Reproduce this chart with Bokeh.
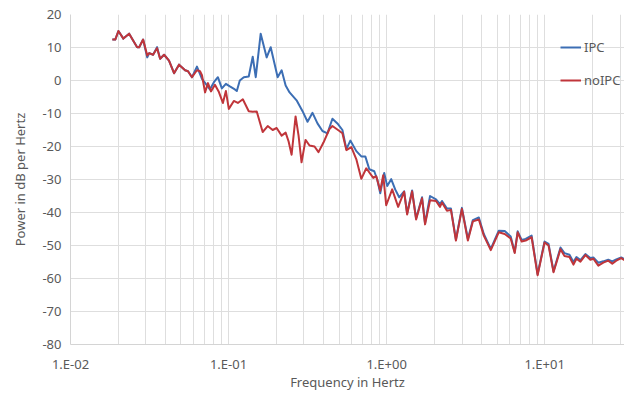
from bokeh.plotting import figure
from bokeh.models import Range1d, FixedTicker, CustomJSTickFormatter, Legend, LegendItem
from bokeh.embed import file_html
from bokeh.resources import INLINE

# ---- data ----
freq_ipc = [0.0184, 0.0192, 0.0201, 0.0216, 0.0235, 0.0264, 0.0272, 0.0288, 0.0306, 0.0315,
            0.0333, 0.0353, 0.0369, 0.0391, 0.0420, 0.0452, 0.0486, 0.0531, 0.0554, 0.0587,
            0.0631, 0.0679, 0.0710, 0.0762, 0.0808, 0.0856, 0.0907, 0.0962, 0.1019, 0.1096,
            0.1128, 0.1178, 0.1249, 0.1342, 0.1422, 0.1486, 0.1597, 0.1743, 0.1848, 0.2045,
            0.2167, 0.2297, 0.2433, 0.2694, 0.2939, 0.3160, 0.3398, 0.3653, 0.3928, 0.4223,
            0.4541, 0.4884, 0.5253, 0.5565, 0.5896, 0.6434, 0.6917, 0.7332, 0.7772, 0.8354,
            0.8726, 0.9114, 0.9658, 1.0088, 1.0691, 1.1330, 1.2007,
            1.2909, 1.3484, 1.4498, 1.5365, 1.6760, 1.7510, 1.8828, 2.0535, 2.1763, 2.2404,
            2.4093, 2.5534, 2.7455, 2.9951, 3.2675, 3.5134, 3.8330, 4.1210, 4.5613, 5.1229,
            5.5887, 6.0967, 6.4626, 6.7499, 7.1532, 7.5803, 8.2697, 9.0220, 9.986, 10.583,
            11.379, 12.596, 13.349, 14.354, 15.210, 15.888, 16.837, 18.101, 19.459, 20.326,
            21.853, 23.496, 25.26, 26.78, 28.38, 30.51, 32.35, 34.28, 35.8, 37.95, 39.6]
db_ipc = [12.4, 12.4, 15.0, 12.7, 14.2, 10.1, 10.1, 12.4, 7.0, 8.3,
          7.8, 10.1, 6.6, 7.8, 6.0, 2.2, 4.8, 3.1, 2.8, 1.0,
          4.2, 0.5, -0.7, -2.7, -0.5, 1.0, -2.4, -1.0, -1.8, -2.7,
          -3.2, 0.0, 1.0, 1.2, 7.2, 1.0, 14.2, 7.0, 10.1, 1.0,
          3.1, -1.5, -3.6, -6.0, -9.3, -12.5, -9.8, -13.0, -15.3, -16.0,
          -11.6, -13.0, -15.0, -20.8, -18.2, -21.4, -23.0, -23.0, -26.9, -27.5,
          -30.0, -34.2, -28.0, -32.0, -29.9, -33.0, -35.4,
          -33.6, -40.3, -33.3, -41.8, -35.4, -43.3, -35.0, -36.0, -37.5, -36.5,
          -38.8, -38.8, -48.2, -38.6, -48.0, -42.3, -41.5, -46.5, -51.0, -45.5,
          -45.6, -47.3, -52.0, -45.7, -48.3, -48.0, -47.0, -58.7, -48.8, -49.5,
          -57.8, -50.6, -52.3, -52.8, -55.0, -53.5, -54.4, -52.6, -53.8, -53.6,
          -55.2, -54.8, -54.3, -54.8, -54.2, -53.6, -54.2, -53.4, -59.6, -57.0, -52.5]

freq_noipc = [0.0184, 0.0192, 0.0201, 0.0216, 0.0235, 0.0264, 0.0272, 0.0288, 0.0306, 0.0315,
              0.0333, 0.0353, 0.0369, 0.0391, 0.0420, 0.0452, 0.0486, 0.0531, 0.0554, 0.0587,
              0.0631, 0.0660, 0.0679, 0.0710, 0.0741, 0.0774, 0.0820, 0.0869, 0.0921, 0.0962,
              0.1004, 0.1080, 0.1145, 0.1231, 0.1342, 0.1422, 0.1508, 0.1644, 0.1769, 0.1901,
              0.2015, 0.2167, 0.2297, 0.2399, 0.2506, 0.2655, 0.2773, 0.2896, 0.3069, 0.3253,
              0.3499, 0.3707, 0.3986, 0.4348, 0.4541, 0.5028, 0.5253, 0.5565, 0.5982, 0.6434,
              0.6917, 0.7437, 0.8234, 0.8602, 0.9114, 0.9519, 0.9942, 1.0846, 1.1834,
              1.2909, 1.3484, 1.4498, 1.5365, 1.6760, 1.7510, 1.8828, 2.0535, 2.1763, 2.2404,
              2.4093, 2.5534, 2.7455, 2.9951, 3.2675, 3.5134, 3.8330, 4.1210, 4.5613, 5.1229,
              5.5887, 6.0967, 6.4626, 6.7499, 7.1532, 7.5803, 8.2697, 9.0220, 9.986, 10.583,
              11.379, 12.596, 13.349, 14.354, 15.210, 15.888, 16.837, 18.101, 19.459, 20.326,
              21.853, 23.496, 25.26, 26.78, 28.38, 30.51, 32.35, 34.28, 35.8, 37.95, 39.6]
db_noipc = [12.4, 12.4, 15.0, 12.7, 14.2, 10.1, 10.1, 12.4, 7.6, 8.3,
            7.8, 9.8, 6.6, 7.8, 6.0, 2.2, 4.8, 3.1, 2.8, 1.0,
            3.1, 2.8, 1.6, -3.6, -0.8, -3.3, -1.3, -3.5, -6.8, -3.2,
            -8.6, -6.2, -6.8, -5.7, -9.3, -9.5, -9.4, -15.6, -13.8, -15.0,
            -14.4, -16.7, -15.8, -18.5, -22.5, -10.9, -16.7, -24.8, -18.0, -19.7,
            -20.0, -21.7, -18.8, -14.7, -13.8, -15.3, -16.0, -21.1, -20.2, -23.9,
            -29.8, -26.6, -29.5, -29.0, -33.4, -28.7, -37.8, -33.0, -38.3,
            -33.7, -40.6, -33.6, -42.1, -35.7, -43.6, -36.3, -36.5, -38.3, -37.0,
            -39.5, -39.2, -48.5, -38.9, -48.5, -42.7, -42.1, -47.0, -51.4, -46.0,
            -46.5, -47.9, -52.3, -46.0, -48.8, -48.5, -47.5, -59.0, -49.1, -50.0,
            -58.1, -51.1, -53.2, -53.5, -55.8, -54.0, -54.9, -52.9, -54.3, -54.0,
            -56.1, -55.2, -54.6, -55.5, -54.6, -53.8, -54.6, -53.8, -60.5, -57.3, -52.5]

x_major = [0.01, 0.1, 1, 10]
x_minor = [m * d for d in (0.01, 0.1, 1, 10) for m in range(2, 10)]
y_ticks = list(range(-80, 21, 10))

FONT = "Noto Sans"
TXT = "#595959"
GRID = "#dedede"

p = figure(width=624, height=393, x_axis_type="log",
           x_range=Range1d(0.01, 32), y_range=Range1d(-80, 20),
           output_backend="svg", toolbar_location=None,
           min_border_left=70, min_border_right=0, min_border_top=14, min_border_bottom=44)
p.outline_line_color = None

p.xaxis.ticker = FixedTicker(ticks=x_major, minor_ticks=x_minor)
p.xaxis.formatter = CustomJSTickFormatter(code="""
const e = Math.round(Math.log10(tick));
return "1.E" + (e < 0 ? "-" : "+") + String(Math.abs(e)).padStart(2, "0");
""")
p.yaxis.ticker = FixedTicker(ticks=y_ticks)
p.yaxis.formatter = CustomJSTickFormatter(code="return tick.toFixed(0);")

for ax in (p.xaxis, p.yaxis):
    ax.axis_line_color = "#d4d4d4"
    ax.major_tick_line_color = None
    ax.minor_tick_line_color = None
    ax.major_tick_out = 0
    ax.major_tick_in = 0
    ax.minor_tick_out = 0
    ax.minor_tick_in = 0
    ax.major_label_text_font = FONT
    ax.major_label_text_font_size = "13px"
    ax.major_label_text_color = TXT
    ax.axis_label_text_font = FONT
    ax.axis_label_text_font_size = "13px"
    ax.axis_label_text_color = TXT
    ax.axis_label_text_font_style = "normal"

p.xaxis.axis_label = "Frequency in Hertz"
p.yaxis.axis_label = "Power in dB per Hertz"
p.xaxis.major_label_standoff = 10
p.xaxis.axis_label_standoff = -3
p.yaxis.major_label_standoff = 9
p.yaxis.axis_label_standoff = 10

p.xgrid.grid_line_color = GRID
p.xgrid.minor_grid_line_color = GRID
p.ygrid.grid_line_color = GRID

r_ipc = p.line(freq_ipc, db_ipc, line_color="#3C6EB4", line_width=2, line_join="round")
r_noipc = p.line(freq_noipc, db_noipc, line_color="#C0353A", line_width=2, line_join="round")

legend = Legend(items=[LegendItem(label="IPC", renderers=[r_ipc]),
                       LegendItem(label="noIPC", renderers=[r_noipc])],
                location=(490, 254), padding=0, margin=0, spacing=13,
                glyph_width=21, label_standoff=3,
                background_fill_alpha=0, border_line_alpha=0,
                label_text_font=FONT, label_text_font_size="13px", label_text_color=TXT)
p.add_layout(legend, "center")

open("out.html", "w").write(file_html(p, INLINE))
